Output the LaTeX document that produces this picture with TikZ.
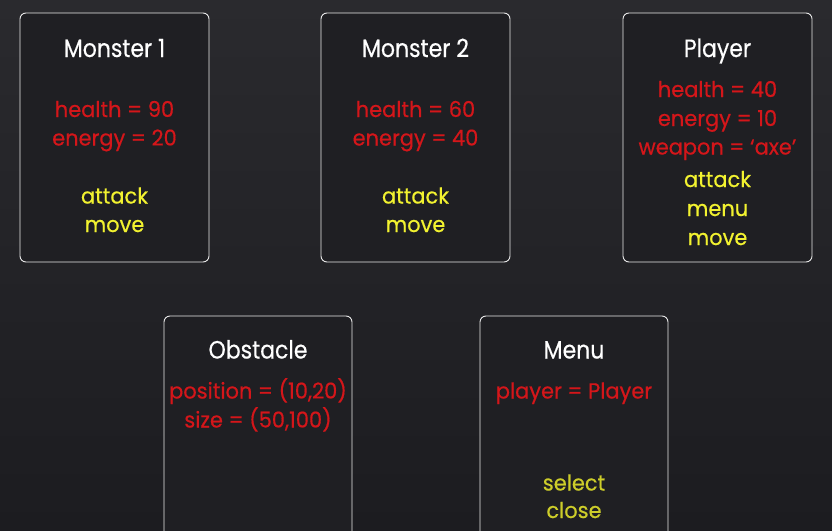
\documentclass[tikz,border=0pt]{standalone}
\usepackage{fontspec}
\setmainfont{Poppins}
\newfontfamily\ttlfont[FakeStretch=0.88,FakeBold=0.4]{Poppins}
\newfontfamily\bodyfont[FakeStretch=0.96,FakeBold=0.5]{Poppins}
\begin{document}
\begin{tikzpicture}[x=1pt,y=-1pt,
  card/.style={draw=white!92!black, line width=0.9pt, rounded corners=6pt, fill=cardbg},
  ttl/.style={text=white, font=\ttlfont\fontsize{25}{25}\selectfont, anchor=base},
  attr/.style={text=redtxt, font=\bodyfont\fontsize{21.8}{22}\selectfont, anchor=base},
  meth/.style={text=yeltxt, font=\bodyfont\fontsize{21.8}{22}\selectfont, anchor=base},
  meth2/.style={text=oltxt, font=\bodyfont\fontsize{21.8}{22}\selectfont, anchor=base}]
\definecolor{bgtop}{HTML}{2A2A2E}
\definecolor{bgbot}{HTML}{1C1C20}
\definecolor{cardbg}{HTML}{1F1F23}
\definecolor{redtxt}{HTML}{D4161A}
\definecolor{yeltxt}{HTML}{F2F230}
\definecolor{oltxt}{HTML}{CDCD2A}
\useasboundingbox (0,0) rectangle (832,530);
\shade[top color=bgtop, bottom color=bgbot] (0,0) rectangle (832,530);
% boxes
\draw[card] (20,13) rectangle (209,262) coordinate (m1);
\draw[card] (321,13) rectangle (510,262) coordinate (m2);
\draw[card] (623,13) rectangle (812,262) coordinate (pl);
\draw[card] (164,316) rectangle (352,545) coordinate (ob);
\draw[card] (480,316) rectangle (668,545) coordinate (mn);
% Monster 1
\node[ttl] (m1t) at (114.5,57) {Monster 1};
\node[attr] (m1a) at (114.5,117) {health = 90};
\node[attr] (m1b) at (114.5,145.5) {energy = 20};
\node[meth] (m1c) at (114.5,203.5) {attack};
\node[meth] (m1d) at (114.5,232) {move};
% Monster 2
\node[ttl] (m2t) at (415.5,57) {Monster 2};
\node[attr] (m2a) at (415.5,117) {health = 60};
\node[attr] (m2b) at (415.5,145.5) {energy = 40};
\node[meth] (m2c) at (415.5,203.5) {attack};
\node[meth] (m2d) at (415.5,232) {move};
% Player
\node[ttl] (plt) at (717.5,57) {Player};
\node[attr] (pla) at (717.5,97) {health = 40};
\node[attr] (plb) at (717.5,126) {energy = 10};
\node[attr] (plc) at (717.5,154.5) {weapon = ‘axe’};
\node[meth] (pld) at (717.5,187) {attack};
\node[meth] (ple) at (717.5,216) {menu};
\node[meth] (plf) at (717.5,245) {move};
% Obstacle
\node[ttl] (obt) at (258,358.5) {Obstacle};
\node[attr] (oba) at (258,398.5) {position = (10,20)};
\node[attr] (obb) at (258,427.5) {size = (50,100)};
% Menu
\node[ttl] (mnt) at (574,358.5) {Menu};
\node[attr] (mna) at (574,398.5) {player = Player};
\node[meth2] (mnb) at (574,490.5) {select};
\node[meth2] (mnc) at (574,518) {close};
\end{tikzpicture}
\end{document}
